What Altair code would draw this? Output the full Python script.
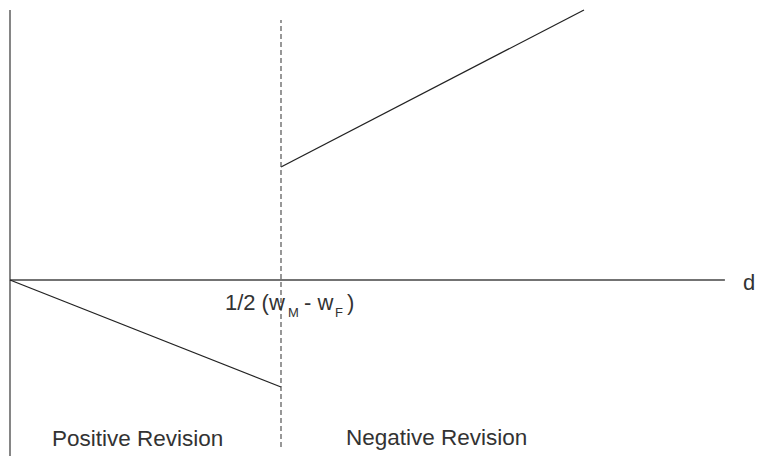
import altair as alt
import pandas as pd

# --- data (abstract units: d on x, value on y) ---
seg_name = ["vaxis", "haxis", "lower", "upper"]
seg_x  = [0.0, 0.0,   0.0, 1.0]
seg_y  = [-1.76, 0.0, 0.0, 1.13]
seg_x2 = [0.0, 2.638, 1.0, 2.118]
seg_y2 = [2.70, 0.0, -1.07, 2.70]

dash_x = [1.0]
dash_y = [-1.67]
dash_y2 = [2.60]

lab_text = ["1/2 (w", "M", "- w", "F", ")", "d", "Positive Revision", "Negative Revision"]
lab_x    = [0.793, 1.026, 1.085, 1.199, 1.244, 2.705, 0.155, 1.240]
lab_y    = [-0.30, -0.37, -0.30, -0.37, -0.30, -0.10, -1.66, -1.65]
lab_size = [22, 13, 22, 13, 22, 22, 22.5, 22.5]

W, H = 748, 448
xs = alt.Scale(domain=[-2 / 271, 746 / 271], nice=False, zero=False)
ys = alt.Scale(domain=[-1.76, 2.72], nice=False, zero=False)

segs = pd.DataFrame({"name": seg_name, "x": seg_x, "y": seg_y, "x2": seg_x2, "y2": seg_y2})
dash = pd.DataFrame({"x": dash_x, "y": dash_y, "y2": dash_y2})
labs = pd.DataFrame({"t": lab_text, "x": lab_x, "y": lab_y, "s": lab_size})

axes_layer = alt.Chart(segs).transform_filter(
    alt.FieldOneOfPredicate(field="name", oneOf=["vaxis", "haxis"])
).mark_rule(color="#444444", strokeWidth=1.3).encode(
    x=alt.X("x:Q", scale=xs, axis=None),
    y=alt.Y("y:Q", scale=ys, axis=None),
    x2="x2:Q", y2="y2:Q",
)

lines_layer = alt.Chart(segs).transform_filter(
    alt.FieldOneOfPredicate(field="name", oneOf=["lower", "upper"])
).mark_rule(color="#222222", strokeWidth=1.3).encode(
    x=alt.X("x:Q", scale=xs, axis=None),
    y=alt.Y("y:Q", scale=ys, axis=None),
    x2="x2:Q", y2="y2:Q",
)

dash_layer = alt.Chart(dash).mark_rule(
    color="#444444", strokeWidth=1.1, strokeDash=[5, 3]
).encode(
    x=alt.X("x:Q", scale=xs, axis=None),
    y=alt.Y("y:Q", scale=ys, axis=None),
    y2="y2:Q",
)

text_layer = alt.Chart(labs).mark_text(
    align="left", baseline="alphabetic", font="Liberation Sans", color="#333333"
).encode(
    x=alt.X("x:Q", scale=xs, axis=None),
    y=alt.Y("y:Q", scale=ys, axis=None),
    text="t:N",
    size=alt.Size("s:Q", scale=None, legend=None),
)

chart = alt.layer(axes_layer, lines_layer, dash_layer, text_layer).properties(
    width=W, height=H,
    autosize=alt.AutoSizeParams(type="none"),
    padding=0,
    background="white",
).configure_view(stroke=None)

chart.save("out.html", embed_options={"renderer": "svg", "actions": False})
